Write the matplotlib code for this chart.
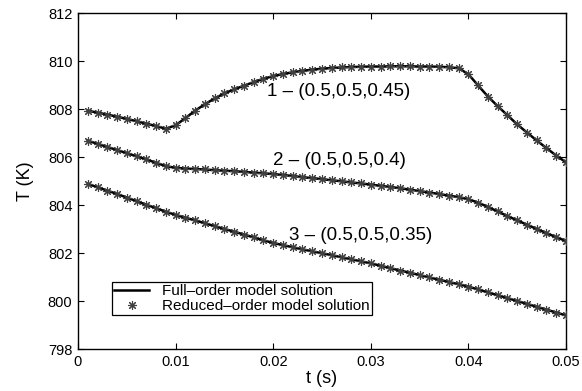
import numpy as np
import matplotlib
matplotlib.use("Agg")
from matplotlib import pyplot as plt

plt.rcParams['font.family'] = ['Liberation Sans', 'DejaVu Sans']

# time samples (s)
t = [0.001, 0.002, 0.003, 0.004, 0.005, 0.006, 0.007, 0.008, 0.009, 0.010,
     0.011, 0.012, 0.013, 0.014, 0.015, 0.016, 0.017, 0.018, 0.019, 0.020,
     0.021, 0.022, 0.023, 0.024, 0.025, 0.026, 0.027, 0.028, 0.029, 0.030,
     0.031, 0.032, 0.033, 0.034, 0.035, 0.036, 0.037, 0.038, 0.039, 0.040,
     0.041, 0.042, 0.043, 0.044, 0.045, 0.046, 0.047, 0.048, 0.049, 0.050]

# temperature (K), case 1 - (0.5,0.5,0.45)
temp1 = [807.93, 807.85, 807.77, 807.68, 807.59, 807.49, 807.39, 807.29, 807.18, 807.32,
         807.62, 807.93, 808.20, 808.44, 808.65, 808.82, 808.97, 809.12, 809.26, 809.37,
         809.46, 809.53, 809.59, 809.64, 809.68, 809.71, 809.73, 809.75, 809.76, 809.77,
         809.77, 809.78, 809.78, 809.78, 809.77, 809.77, 809.76, 809.74, 809.70, 809.45,
         808.98, 808.52, 808.12, 807.74, 807.36, 807.02, 806.69, 806.37, 806.06, 805.78]

# case 2 - (0.5,0.5,0.4)
temp2 = [806.68, 806.55, 806.42, 806.29, 806.16, 806.03, 805.90, 805.76, 805.62, 805.55,
         805.52, 805.50, 805.48, 805.45, 805.43, 805.41, 805.38, 805.35, 805.32, 805.29,
         805.25, 805.21, 805.16, 805.12, 805.08, 805.03, 804.99, 804.94, 804.90, 804.85,
         804.80, 804.75, 804.70, 804.64, 804.58, 804.52, 804.46, 804.39, 804.33, 804.24,
         804.10, 803.92, 803.73, 803.54, 803.36, 803.18, 803.00, 802.83, 802.66, 802.50]

# case 3 - (0.5,0.5,0.35)
temp3 = [804.88, 804.74, 804.60, 804.46, 804.31, 804.16, 804.01, 803.87, 803.72, 803.59,
         803.47, 803.36, 803.24, 803.12, 803.00, 802.89, 802.77, 802.65, 802.53, 802.42,
         802.33, 802.24, 802.15, 802.07, 801.99, 801.91, 801.82, 801.74, 801.65, 801.57,
         801.47, 801.37, 801.27, 801.18, 801.08, 800.98, 800.89, 800.79, 800.70, 800.60,
         800.48, 800.36, 800.24, 800.12, 800.00, 799.88, 799.76, 799.64, 799.52, 799.40]

curve_labels = ["1 \u2013 (0.5,0.5,0.45)", "2 \u2013 (0.5,0.5,0.4)", "3 \u2013 (0.5,0.5,0.35)"]
label_pos = [(0.0194, 808.75), (0.0200, 805.85), (0.0216, 802.75)]

x_ticks = [0, 0.01, 0.02, 0.03, 0.04, 0.05]
x_ticklabels = ["0", "0.01", "0.02", "0.03", "0.04", "0.05"]
y_ticks = [798, 800, 802, 804, 806, 808, 810, 812]

fig = plt.figure(figsize=(5.82, 3.91), dpi=100)
ax = fig.add_axes([0.134, 0.1074, 0.8385, 0.8593])

full_line = None
reduced_pts = None
for temp in [temp1, temp2, temp3]:
    l, = ax.plot(t, temp, color="black", lw=1.8, zorder=2)
    m, = ax.plot(t, temp, ls="none", marker=(8, 2, 0), ms=6.5, mec="0.25", mew=0.8, zorder=3)
    if full_line is None:
        full_line, reduced_pts = l, m

for lab, (px, py) in zip(curve_labels, label_pos):
    ax.text(px, py, lab, fontsize=13.5, ha="left", va="center")

ax.set_xlim(0, 0.05)
ax.set_ylim(798, 812)
ax.set_xticks(x_ticks)
ax.set_xticklabels(x_ticklabels)
ax.set_yticks(y_ticks)
ax.tick_params(direction="in", top=True, right=True, length=4, width=0.8, labelsize=10.5, pad=4)
for s in ax.spines.values():
    s.set_linewidth(1.0)

ax.set_xlabel("t (s)", fontsize=13, labelpad=1)
ax.set_ylabel("T (K)", fontsize=13, labelpad=10)

leg = ax.legend([full_line, reduced_pts],
                ["Full\u2013order model solution", "Reduced\u2013order model solution"],
                loc="upper left", bbox_to_anchor=(0.0697, 0.199), borderaxespad=0,
                fancybox=False, edgecolor="black", framealpha=1, fontsize=11,
                handlelength=2.3, borderpad=0.15, labelspacing=0.05, handletextpad=0.8)
leg.get_frame().set_linewidth(0.9)

fig.savefig("out.png", dpi=100)
